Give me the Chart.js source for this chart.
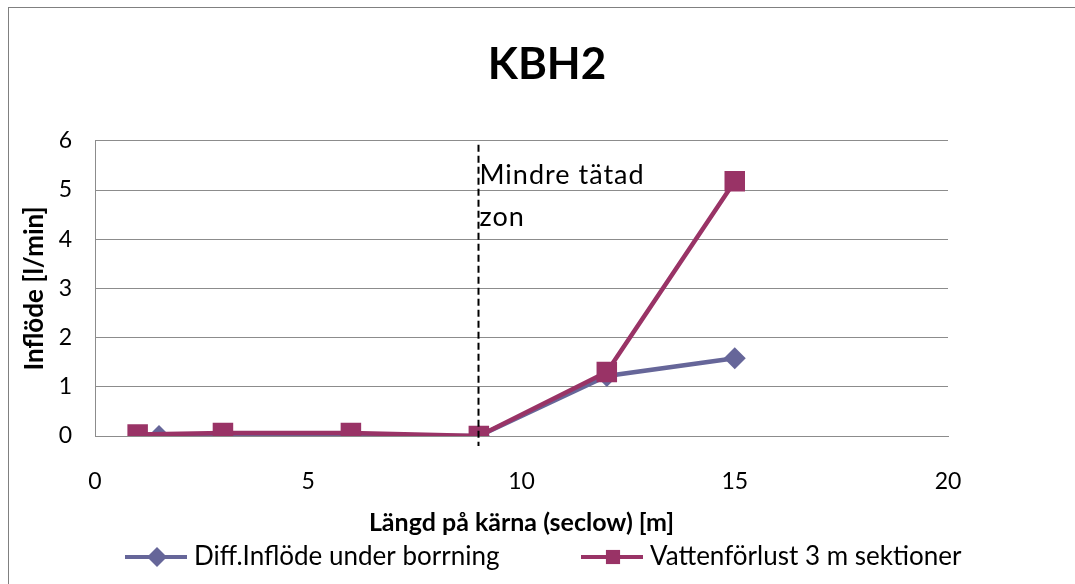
<!DOCTYPE html>
<html>
<head>
<meta charset="utf-8">
<title>KBH2</title>
<script src="https://cdn.jsdelivr.net/npm/chart.js@4.4.0/dist/chart.umd.min.js"></script>
<style>
	html, body { margin: 0; padding: 0; background: #fff; }
	#wrap { position: relative; width: 1075px; height: 584px; }
</style>
</head>
<body>
<div id="wrap"><canvas id="kbh2Chart"></canvas></div>
<script>
// data (längd på kärna [m], inflöde [l/min])
const diffX = [1.5, 3, 6, 9, 12, 15];
const diffY = [0, 0, 0, 0, 1.22, 1.58];
const vattenX = [1, 3, 6, 9, 12, 15];
const vattenY = [0.03, 0.06, 0.06, 0, 1.3, 5.18];
const seriesNames = ['Diff.Inflöde under borrning', 'Vattenförlust 3 m sektioner'];
const xTicks = [0, 5, 10, 15, 20];
const yTicks = [0, 1, 2, 3, 4, 5, 6];
// zone marker
const zonX = 9;
const zonText = ['Mindre tätad', 'zon'];
const zonTextY = [5.3, 4.45];

const FONT = 'Lato';
const gridGray = '#8c8c8c';

// outer frame like the excel chart border
const framePlugin = {
	id: 'frame',
	beforeDraw(chart) {
		const ctx = chart.ctx;
		ctx.save();
		ctx.fillStyle = '#fff';
		ctx.fillRect(0, 0, chart.width, chart.height);
		ctx.strokeStyle = '#808080';
		ctx.lineWidth = 1;
		ctx.strokeRect(8.5, 7.5, chart.width + 20, chart.height + 20);
		ctx.restore();
	}
};

// dashed vertical line + label
const zonPlugin = {
	id: 'zon',
	afterDatasetsDraw(chart) {
		const ctx = chart.ctx;
		const xs = chart.scales.x, ys = chart.scales.y;
		const px = Math.round(xs.getPixelForValue(zonX)) - 0.5;
		ctx.save();
		ctx.strokeStyle = '#000';
		ctx.lineWidth = 2;
		ctx.setLineDash([7, 4]);
		ctx.beginPath();
		ctx.moveTo(px, chart.chartArea.top + 4);
		ctx.lineTo(px, chart.chartArea.bottom + 10);
		ctx.stroke();
		ctx.setLineDash([]);
		ctx.fillStyle = '#000';
		ctx.font = '27px ' + FONT;
		ctx.letterSpacing = '1px';
		ctx.textBaseline = 'middle';
		zonText.forEach((t, i) => {
			ctx.fillText(t, px + 1, ys.getPixelForValue(zonTextY[i]));
		});
		ctx.restore();
	}
};

// legend row at the bottom (wide spacing like the original)
const legendPlugin = {
	id: 'legendRow',
	afterDraw(chart) {
		const ctx = chart.ctx;
		const startX = [125, 581];
		const y = 557;
		ctx.save();
		chart.data.datasets.forEach((ds, i) => {
			const x0 = startX[i];
			ctx.strokeStyle = ds.borderColor;
			ctx.lineWidth = 4;
			ctx.beginPath();
			ctx.moveTo(x0, y);
			ctx.lineTo(x0 + 62, y);
			ctx.stroke();
			ctx.fillStyle = ds.backgroundColor;
			Chart.helpers.drawPoint(ctx, {
				pointStyle: ds.pointStyle,
				radius: 10,
				rotation: 0,
				borderWidth: 0
			}, x0 + 32, y);
			ctx.fillStyle = '#000';
			ctx.font = '26px ' + FONT;
			ctx.textBaseline = 'middle';
			ctx.fillText(ds.label, x0 + 69, y);
		});
		ctx.restore();
	}
};

const ctx = document.getElementById('kbh2Chart').getContext('2d');
new Chart(ctx, {
	type: 'line',
	data: {
		datasets: [{
			label: seriesNames[0],
			data: diffX.map((x, i) => ({ x: x, y: diffY[i] })),
			borderColor: '#666699',
			backgroundColor: '#666699',
			borderWidth: 4.5,
			pointStyle: 'rectRot',
			pointRadius: 11,
			pointBorderWidth: 0,
			tension: 0,
			order: 1
		}, {
			label: seriesNames[1],
			data: vattenX.map((x, i) => ({ x: x, y: vattenY[i] })),
			borderColor: '#993366',
			backgroundColor: '#993366',
			borderWidth: 4.5,
			pointStyle: 'rect',
			pointRadius: 14.5,
			pointBorderWidth: 0,
			tension: 0,
			order: 0
		}]
	},
	options: {
		responsive: true,
		maintainAspectRatio: false,
		animation: false,
		layout: {
			padding: { top: 38, right: 0, bottom: 46, left: 19 }
		},
		plugins: {
			legend: { display: false },
			tooltip: { enabled: false },
			title: {
				display: true,
				text: 'KBH2',
				color: '#000',
				font: { family: FONT, size: 44, weight: 'bold' },
				padding: { top: 0, bottom: 50 }
			}
		},
		scales: {
			x: {
				type: 'linear',
				min: xTicks[0],
				max: xTicks[xTicks.length - 1],
				ticks: {
					stepSize: xTicks[1] - xTicks[0],
					color: '#000',
					font: { family: FONT, size: 23 },
					padding: 32
				},
				grid: { display: false, drawTicks: false },
				border: { display: true, color: gridGray, width: 1 },
				title: {
					display: true,
					text: 'Längd på kärna (seclow) [m]',
					color: '#000',
					font: { family: FONT, size: 25, weight: 'bold' },
					padding: { top: 0, bottom: 0 }
				},
				afterFit: s => { s.height = 102; }
			},
			y: {
				min: yTicks[0],
				max: yTicks[yTicks.length - 1],
				ticks: {
					stepSize: yTicks[1] - yTicks[0],
					color: '#000',
					font: { family: FONT, size: 23 },
					padding: 23
				},
				grid: { color: gridGray, lineWidth: 1, drawTicks: false },
				border: { display: true, color: gridGray, width: 1 },
				title: {
					display: true,
					text: 'Inflöde [l/min]',
					color: '#000',
					font: { family: FONT, size: 26, weight: 'bold' },
					padding: { top: 0, bottom: 0 }
				},
				afterFit: s => { s.width = 76; }
			},
			// empty space on the right, keeps the title centred on the page
			yRight: {
				position: 'right',
				min: yTicks[0],
				max: yTicks[yTicks.length - 1],
				ticks: { display: false },
				grid: { display: false, drawTicks: false },
				border: { display: false },
				afterFit: s => { s.width = 127; }
			}
		}
	},
	plugins: [framePlugin, zonPlugin, legendPlugin]
});
</script>
</body>
</html>
